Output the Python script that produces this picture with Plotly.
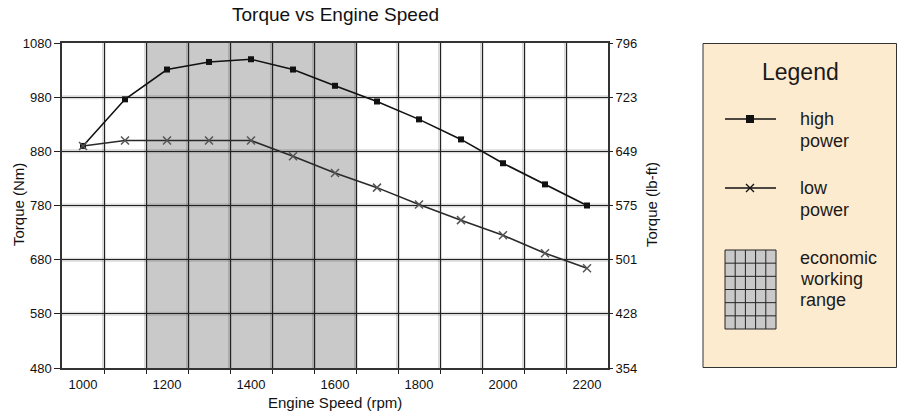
import plotly.graph_objects as go

# ---- data ----
speed = [1000, 1100, 1200, 1300, 1400, 1500, 1600, 1700, 1800, 1900, 2000, 2100, 2200]
high_power = [890, 976, 1031, 1045, 1050, 1031, 1001, 972, 939, 902, 858, 819, 780]
low_power = [890, 900, 900, 900, 900, 871, 840, 813, 782, 753, 725, 692, 664]
x_ticks = [1000, 1200, 1400, 1600, 1800, 2000, 2200]
y_ticks = [480, 580, 680, 780, 880, 980, 1080]
y_right_labels = ["354", "428", "501", "575", "649", "723", "796"]
grid_x = [1050, 1150, 1250, 1350, 1450, 1550, 1650, 1750, 1850, 1950, 2050, 2150]
econ_range = [1150, 1650]
x_range = [950, 2250]
y_range = [480, 1080]

W, H = 897, 412
ML, MR, MT, MB = 62, 0, 43, 44
PW = W - ML - MR
PH = H - MT - MB
FONT = "Liberation Sans, Arial, sans-serif"
GRID = "#222222"
HALO = "rgba(0,0,0,0.14)"

fig = go.Figure()

fig.add_trace(go.Scatter(
    x=speed, y=high_power, mode="lines+markers", name="high power",
    line=dict(color="#111111", width=1.6),
    marker=dict(symbol="square", size=6, color="#111111"),
    showlegend=False))
fig.add_trace(go.Scatter(
    x=speed, y=low_power, mode="lines+markers", name="low power",
    line=dict(color="#2a2a2a", width=1.6),
    marker=dict(symbol="x-thin", size=8, line=dict(width=1.5, color="#555555")),
    showlegend=False))
# invisible trace to activate the right axis
fig.add_trace(go.Scatter(x=[speed[0]], y=[high_power[0]], yaxis="y2", mode="markers",
                         marker=dict(opacity=0), hoverinfo="skip", showlegend=False))

# economic working range shading
fig.add_shape(type="rect", xref="x", yref="y", x0=econ_range[0], x1=econ_range[1],
              y0=y_range[0], y1=y_range[1], fillcolor="#c9c9c9", line=dict(width=0),
              layer="below")
# soft halo behind grid lines
for gx in grid_x:
    fig.add_shape(type="line", xref="x", yref="y", x0=gx, x1=gx, y0=y_range[0], y1=y_range[1],
                  line=dict(color=HALO, width=4), layer="below")
for gy in y_ticks[1:-1]:
    fig.add_shape(type="line", xref="x", yref="y", x0=x_range[0], x1=x_range[1], y0=gy, y1=gy,
                  line=dict(color=HALO, width=4), layer="below")

# ---- legend panel (separate hidden axes, pixel units) ----
lx0 = 702
fig.add_shape(type="rect", xref="x3", yref="y3", x0=703, x1=896.5, y0=43.5, y1=367.5,
              fillcolor="#fdebd0", line=dict(color="#333333", width=1), layer="below")
fig.add_trace(go.Scatter(x=[725, 776], y=[119, 119], xaxis="x3", yaxis="y3", mode="lines",
                         line=dict(color="#111111", width=1.3), hoverinfo="skip", showlegend=False))
fig.add_trace(go.Scatter(x=[750], y=[119], xaxis="x3", yaxis="y3", mode="markers",
                         marker=dict(symbol="square", size=8, color="#111111"),
                         hoverinfo="skip", showlegend=False))
fig.add_trace(go.Scatter(x=[725, 776], y=[188, 188], xaxis="x3", yaxis="y3", mode="lines",
                         line=dict(color="#111111", width=1.3), hoverinfo="skip", showlegend=False))
fig.add_trace(go.Scatter(x=[750], y=[188], xaxis="x3", yaxis="y3", mode="markers",
                         marker=dict(symbol="x-thin", size=8, line=dict(width=1.3, color="#111111")),
                         hoverinfo="skip", showlegend=False))
gx0, gx1, gy0, gy1 = 725, 776, 250, 329
fig.add_shape(type="rect", xref="x3", yref="y3", x0=gx0, x1=gx1, y0=gy0, y1=gy1,
              fillcolor="#c9c9c9", line=dict(color="#222222", width=1))
for k in range(1, 5):
    xx = gx0 + k * (gx1 - gx0) / 5
    fig.add_shape(type="line", xref="x3", yref="y3", x0=xx, x1=xx, y0=gy0, y1=gy1,
                  line=dict(color="#222222", width=1))
for k in range(1, 6):
    yy = gy0 + k * (gy1 - gy0) / 6
    fig.add_shape(type="line", xref="x3", yref="y3", x0=gx0, x1=gx1, y0=yy, y1=yy,
                  line=dict(color="#222222", width=1))

def ltext(x, y, s, size):
    fig.add_annotation(xref="x3", yref="y3", x=x, y=y, text=s, showarrow=False,
                       xanchor="left", yanchor="middle",
                       font=dict(family=FONT, size=size, color="#1a1a1a"))

fig.add_annotation(xref="x3", yref="y3", x=800, y=72, text="Legend", showarrow=False,
                   xanchor="center", yanchor="middle",
                   font=dict(family=FONT, size=23, color="#1a1a1a"))
ltext(798, 119, "high", 18)
ltext(798, 141, "power", 18)
ltext(798, 188, "low", 18)
ltext(798, 210, "power", 18)
ltext(798, 258, "economic", 18)
ltext(798, 279, "working", 18)
ltext(798, 300, "range", 18)

def px(xp):
    return (xp - ML) / PW

def py(yp):
    return (H - MB - yp) / PH

# title and axis titles
fig.add_annotation(xref="paper", yref="paper", x=px(335), y=py(15),
                   text="Torque vs Engine Speed", showarrow=False,
                   xanchor="center", yanchor="middle",
                   font=dict(family=FONT, size=19, color="#111111"))
fig.add_annotation(xref="paper", yref="paper", x=px(335), y=py(402),
                   text="Engine Speed (rpm)", showarrow=False,
                   xanchor="center", yanchor="middle",
                   font=dict(family=FONT, size=15, color="#111111"))
fig.add_annotation(xref="paper", yref="paper", x=px(18), y=py(205),
                   text="Torque (Nm)", showarrow=False, textangle=-90,
                   xanchor="center", yanchor="middle",
                   font=dict(family=FONT, size=15, color="#111111"))
fig.add_annotation(xref="paper", yref="paper", x=px(651), y=py(205),
                   text="Torque (lb-ft)", showarrow=False, textangle=-90,
                   xanchor="center", yanchor="middle",
                   font=dict(family=FONT, size=15, color="#111111"))

xdom = (608 - ML) / PW
fig.update_layout(
    width=W, height=H,
    margin=dict(l=ML, r=MR, t=MT, b=MB),
    paper_bgcolor="white", plot_bgcolor="white",
    font=dict(family=FONT, size=13, color="#111111"),
    xaxis=dict(domain=[0, xdom], range=x_range, tickmode="array", tickvals=x_ticks,
               automargin=False,
               showgrid=False, zeroline=False, showline=True, mirror=True,
               linecolor="#333333", linewidth=1.5, ticks="", ticklabelstandoff=4,
               tickfont=dict(size=13),
               minor=dict(tickmode="array", tickvals=grid_x, showgrid=True,
                          gridcolor=GRID, gridwidth=1.4, ticks="outside",
                          ticklen=4, tickcolor=GRID)),
    yaxis=dict(range=y_range, tickmode="array", tickvals=y_ticks, showgrid=True,
               automargin=False,
               gridcolor=GRID, gridwidth=1.4, zeroline=False, showline=True,
               mirror=True, linecolor="#333333", linewidth=1.5, ticks="outside",
               ticklen=6, tickcolor=GRID, tickfont=dict(size=13)),
    yaxis2=dict(overlaying="y", side="right", anchor="x", range=y_range,
                automargin=False,
                tickmode="array", tickvals=y_ticks, ticktext=y_right_labels,
                showgrid=False, zeroline=False, ticks="outside", ticklen=4,
                tickcolor=GRID, tickfont=dict(size=13)),
    xaxis3=dict(domain=[(lx0 - ML) / PW, 1], range=[lx0, W], visible=False,
                anchor="y3", fixedrange=True, automargin=False),
    yaxis3=dict(domain=[0, 1], range=[H - MB, MT], visible=False, anchor="x3",
                fixedrange=True, automargin=False),
)

fig.write_html("out.html", config={"displayModeBar": False},
               post_script="document.body.style.margin='0';document.body.style.overflow='hidden';")
